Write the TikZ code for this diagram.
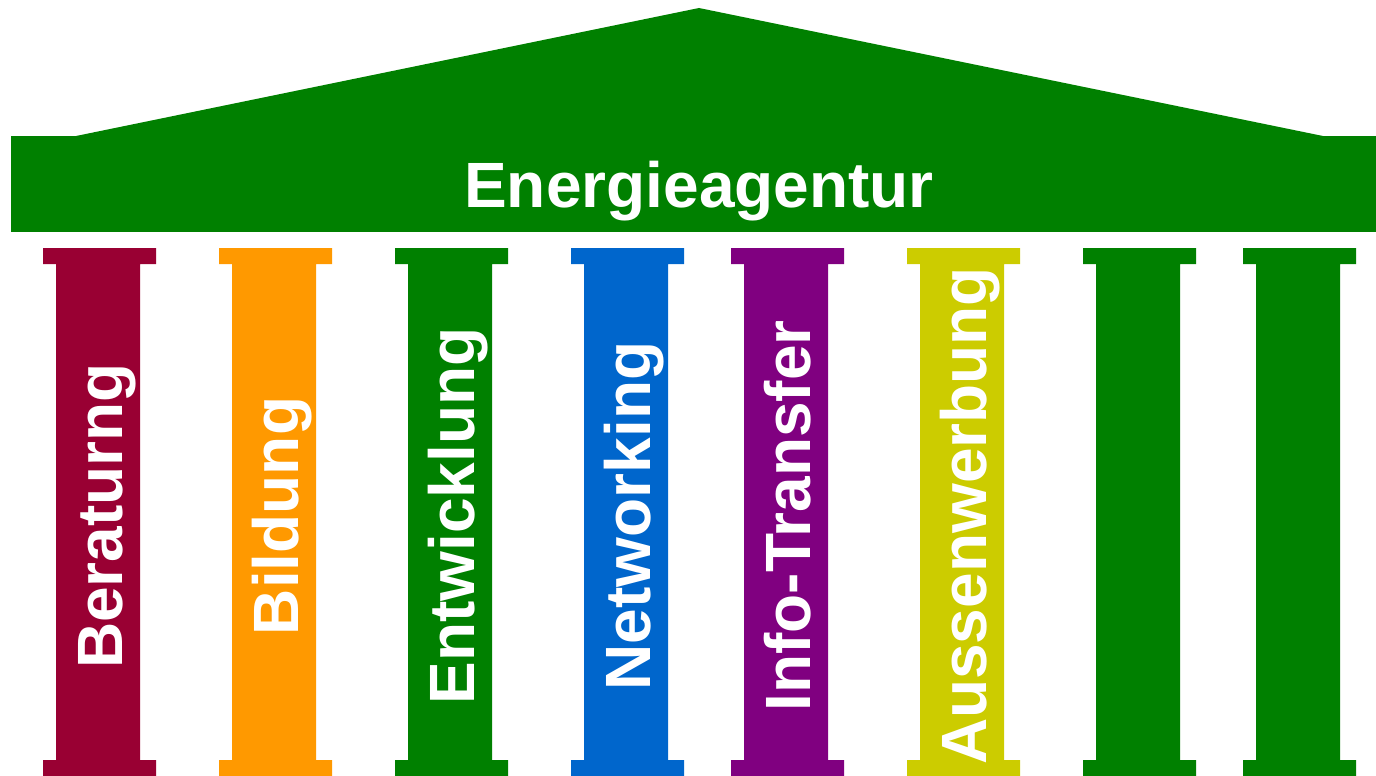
\documentclass[tikz,border=0pt]{standalone}
\usepackage{fontspec}
\setmainfont{Liberation Sans}
\definecolor{roofgreen}{HTML}{008000}
\definecolor{colred}{HTML}{990033}
\definecolor{colorange}{HTML}{FF9900}
\definecolor{colblue}{HTML}{0066CC}
\definecolor{colpurple}{HTML}{800080}
\definecolor{colyellow}{HTML}{CCCC00}
\begin{document}
\begin{tikzpicture}[x=0.01cm,y=-0.01cm,
  label/.style={text=white,font=\bfseries\fontsize{18.2}{20}\selectfont,inner sep=0pt},
  pillar/.style={label,rotate=90,anchor=base}]
			\useasboundingbox (0,0) rectangle (1376,776);
			% roof and beam
			\fill[roofgreen] (76,136) -- (699,8) -- (1323,136) -- cycle;
			\fill[roofgreen] (11,136) rectangle (1376,232);
			\node[label,anchor=base] (agentur) at (699,207) {Energieagentur};
			% pillars
			\fill[colred] (43,248) rectangle (156,264) (56,264) rectangle (140,760) (43,760) rectangle (156,776);
			\fill[colorange] (219,248) rectangle (332,264) (232,264) rectangle (316,760) (219,760) rectangle (332,776);
			\fill[roofgreen] (395,248) rectangle (508,264) (408,264) rectangle (492,760) (395,760) rectangle (508,776);
			\fill[colblue] (571,248) rectangle (684,264) (584,264) rectangle (668,760) (571,760) rectangle (684,776);
			\fill[colpurple] (731,248) rectangle (844,264) (744,264) rectangle (828,760) (731,760) rectangle (844,776);
			\fill[colyellow] (907,248) rectangle (1020,264) (920,264) rectangle (1004,760) (907,760) rectangle (1020,776);
			\fill[roofgreen] (1083,248) rectangle (1196,264) (1096,264) rectangle (1180,760) (1083,760) rectangle (1196,776);
			\fill[roofgreen] (1243,248) rectangle (1356,264) (1256,264) rectangle (1340,760) (1243,760) rectangle (1356,776);
			% labels
			\node[pillar] (beratung) at (122,516) {Beraturng};
			\node[pillar] (bildung) at (298,516) {Bildung};
			\node[pillar] (entwicklung) at (474,516) {Entwicklung};
			\node[pillar] (networking) at (650,516) {Networking};
			\node[pillar] (transfer) at (810,516) {Info-Transfer};
			\node[pillar] (werbung) at (986,516) {Aussenwerbung};
\end{tikzpicture}
\end{document}
